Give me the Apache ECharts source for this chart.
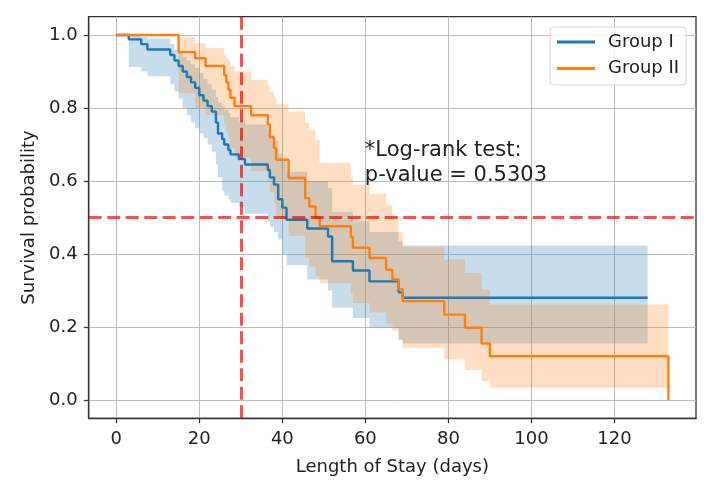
<!DOCTYPE html>
<html><head><meta charset="utf-8">
<script src="https://cdn.jsdelivr.net/npm/echarts@6/dist/echarts.min.js"></script>
<style>html,body{margin:0;padding:0;background:#fff}#c{width:719px;height:497px}</style>
</head><body><div id="c"></div>
<script>
// ---- Data ----
const daysI  = [0, 3, 6, 7.5, 13, 14, 15, 16, 17, 18, 19, 20, 21, 22, 23, 24, 24.5, 25.5, 26, 27, 27.5, 29.5, 31, 36.5, 37, 38, 39, 40, 41, 46, 51, 52, 57, 61, 68, 69, 128];
const survI  = [1.0, 0.988, 0.975, 0.96, 0.945, 0.93, 0.915, 0.90, 0.885, 0.87, 0.855, 0.835, 0.82, 0.805, 0.79, 0.76, 0.73, 0.715, 0.70, 0.685, 0.673, 0.66, 0.645, 0.63, 0.61, 0.59, 0.55, 0.527, 0.494, 0.47, 0.448, 0.38, 0.355, 0.325, 0.295, 0.28, 0.28];
const lowerI = [1.0, 0.912, 0.90, 0.887, 0.865, 0.846, 0.825, 0.80, 0.78, 0.76, 0.745, 0.73, 0.718, 0.70, 0.68, 0.645, 0.61, 0.573, 0.56, 0.55, 0.54, 0.53, 0.51, 0.49, 0.475, 0.46, 0.44, 0.40, 0.37, 0.33, 0.30, 0.253, 0.225, 0.198, 0.165, 0.155, 0.155];
const upperI = [1.0, 0.998, 0.995, 0.99, 0.975, 0.96, 0.95, 0.94, 0.93, 0.92, 0.91, 0.895, 0.88, 0.865, 0.85, 0.83, 0.815, 0.805, 0.795, 0.785, 0.775, 0.765, 0.755, 0.74, 0.725, 0.71, 0.675, 0.655, 0.625, 0.60, 0.58, 0.515, 0.49, 0.46, 0.435, 0.423, 0.423];

const daysII  = [0, 15, 19, 21.5, 26, 26.5, 27, 27.5, 28.5, 32.5, 36.5, 37, 38, 38.5, 41.5, 45.5, 46.5, 48, 49, 56.5, 57, 61, 65, 66.5, 68, 69, 79, 84, 88, 90, 133];
const survII  = [1.0, 0.953, 0.936, 0.915, 0.89, 0.87, 0.85, 0.828, 0.805, 0.78, 0.755, 0.72, 0.69, 0.658, 0.608, 0.553, 0.53, 0.50, 0.476, 0.447, 0.417, 0.389, 0.357, 0.33, 0.303, 0.271, 0.234, 0.198, 0.155, 0.12, 0.0];
const lowerII = [1.0, 0.84, 0.80, 0.78, 0.755, 0.735, 0.715, 0.69, 0.664, 0.627, 0.60, 0.57, 0.54, 0.50, 0.45, 0.39, 0.365, 0.34, 0.32, 0.29, 0.265, 0.24, 0.21, 0.19, 0.165, 0.143, 0.111, 0.082, 0.052, 0.034, 0.034];
const upperII = [1.0, 0.995, 0.977, 0.965, 0.945, 0.935, 0.93, 0.915, 0.90, 0.877, 0.862, 0.845, 0.83, 0.81, 0.79, 0.76, 0.74, 0.71, 0.65, 0.61, 0.59, 0.565, 0.535, 0.505, 0.46, 0.42, 0.385, 0.348, 0.303, 0.262, 0.262];

const xTicks = [0, 20, 40, 60, 80, 100, 120];
const yTicks = [0.0, 0.2, 0.4, 0.6, 0.8, 1.0];
const cutoffDay = 30;
const medianLevel = 0.5;
const annotationAt = [60, 0.6];
const annotationText = '*Log-rank test:\np-value = 0.5303';
const groupNames = ['Group I', 'Group II'];

// ---- Chart ----
const FONT = 'DejaVu Sans';
const BLUE = '#1f77b4', ORANGE = '#ff7f0e';
const chart = echarts.init(document.getElementById('c'), null, {renderer: 'canvas'});

function pairs(t, v) { return t.map((x, i) => [x, v[i]]); }

// Confidence band drawn as a post-step polygon through the axis scales
function bandSeries(t, lo, up, color) {
  return {
    type: 'custom', silent: true, data: [[t[0], lo[0]]], clip: true,
    renderItem: function (params, api) {
      const pts = [];
      const n = t.length;
      for (let i = 0; i < n; i++) {
        const x1 = i + 1 < n ? t[i + 1] : t[i];
        pts.push(api.coord([t[i], up[i]]), api.coord([x1, up[i]]));
      }
      for (let i = n - 1; i >= 0; i--) {
        const x1 = i + 1 < n ? t[i + 1] : t[i];
        pts.push(api.coord([x1, lo[i]]), api.coord([t[i], lo[i]]));
      }
      return {type: 'polygon', shape: {points: pts}, style: {fill: color, opacity: 0.25}};
    }
  };
}
function lineSeries(name, t, s, color) {
  return {type: 'line', name: name, step: 'end', data: pairs(t, s),
    showSymbol: false, lineStyle: {color: color, width: 2.4}, itemStyle: {color: color}};
}

const axisTextColor = '#222';
const gridColor = '#bcbcbc';
const spineColor = '#333';

const option = {
  animation: false,
  backgroundColor: '#fff',
  textStyle: {fontFamily: FONT},
  grid: {left: 88.7, top: 16.7, width: 607.3, height: 401.6, show: true,
         borderColor: spineColor, borderWidth: 1.3, backgroundColor: 'transparent'},
  xAxis: {
    type: 'value', min: -6.65, max: 139.65, splitNumber: 7,
    name: 'Length of Stay (days)', nameLocation: 'middle', nameGap: 40,
    nameTextStyle: {fontFamily: FONT, fontSize: 18, color: axisTextColor},
    axisLine: {show: true, onZero: false, lineStyle: {color: spineColor, width: 1.3}},
    axisTick: {show: true, length: 5, customValues: xTicks, lineStyle: {color: spineColor, width: 1.2}},
    axisLabel: {customValues: xTicks, margin: 12, fontFamily: FONT, fontSize: 18, color: axisTextColor},
    splitLine: {show: true, lineStyle: {color: gridColor, width: 1}}
  },
  yAxis: {
    type: 'value', min: -0.05, max: 1.05, splitNumber: 5,
    name: 'Survival probability', nameLocation: 'middle', nameGap: 50,
    nameTextStyle: {fontFamily: FONT, fontSize: 18, color: axisTextColor},
    axisLine: {show: true, onZero: false, lineStyle: {color: spineColor, width: 1.3}},
    axisTick: {show: true, length: 5, customValues: yTicks, lineStyle: {color: spineColor, width: 1.2}},
    axisLabel: {customValues: yTicks, margin: 11, fontFamily: FONT, fontSize: 18, color: axisTextColor,
                formatter: v => v.toFixed(1)},
    splitLine: {show: true, lineStyle: {color: gridColor, width: 1}}
  },
  legend: {
    data: groupNames, orient: 'vertical', left: 550, top: 27,
    icon: 'rect', itemWidth: 38, itemHeight: 3, itemGap: 6.5,
    padding: [5, 7, 6.5, 7],
    backgroundColor: 'rgba(255,255,255,0.8)', borderColor: '#d4d4d4', borderWidth: 1, borderRadius: 4,
    textStyle: {fontFamily: FONT, fontSize: 18, color: axisTextColor, lineHeight: 20, padding: [0, 0, 0, 8]}
  },
  series: [
    lineSeries(groupNames[0], daysI, survI, BLUE),
    bandSeries(daysI, lowerI, upperI, BLUE),
    lineSeries(groupNames[1], daysII, survII, ORANGE),
    bandSeries(daysII, lowerII, upperII, ORANGE),
    {type: 'line', name: 'refs', data: [], silent: true, z: 5,
     markLine: {silent: true, symbol: 'none', label: {show: false}, z: 10,
       lineStyle: {color: 'rgba(255,0,0,0.7)', width: 3, type: [13, 5.5]},
       emphasis: {disabled: true},
       data: [{xAxis: cutoffDay}, {yAxis: medianLevel}]}}
  ]
};
chart.setOption(option);

const p = chart.convertToPixel({gridIndex: 0}, annotationAt);
chart.setOption({
  graphic: [{type: 'text', x: p[0] - 0.5, y: p[1] - 43, z: 20, silent: true,
    style: {text: annotationText, font: '21px "DejaVu Sans"', fill: '#222', lineHeight: 25,
            align: 'left', verticalAlign: 'top'}}]
});
</script>
</body></html>
